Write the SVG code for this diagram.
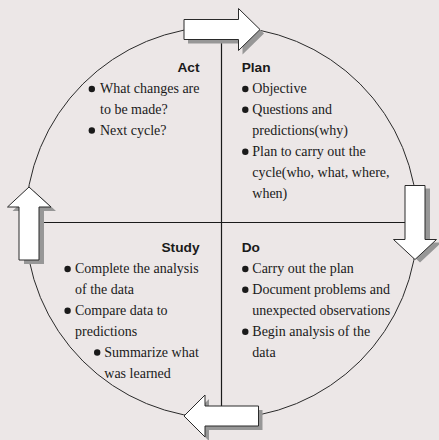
<svg xmlns="http://www.w3.org/2000/svg" width="439" height="440" viewBox="0 0 439 440">
<defs>
<style>
.bg{fill:#ece7e7}
.ring{fill:none;stroke:#2a2a2a;stroke-width:1}
.axis{stroke:#1a1a1a;stroke-width:1.2;fill:none}
.arrow{fill:#ffffff;stroke:#2a2a2a;stroke-width:1}
.shadow{fill:#979797}
.h{font-family:"Liberation Sans",Arial,sans-serif;font-weight:bold;font-size:13.7px;fill:#1a1a1a}
.t{font-family:"Liberation Serif","Times New Roman",serif;font-size:14px;fill:#1a1a1a}
.dot{fill:#1a1a1a}
</style>
</defs>
<rect class="bg" x="0" y="0" width="439" height="440"/>
<circle class="ring" cx="221.5" cy="222.5" r="196"/>
<g id="connectors">
<line class="axis" x1="221.5" y1="39" x2="221.5" y2="406"/>
<line class="axis" x1="39" y1="222.5" x2="405" y2="222.5"/>
</g>
<g id="arrow-top">
<polygon class="shadow" transform="translate(4,4)" points="184,19.5 238.5,19.5 238.5,8.5 260,29.5 238.5,50.5 238.5,39.5 184,39.5"/>
<polygon class="arrow" points="184,19.5 238.5,19.5 238.5,8.5 260,29.5 238.5,50.5 238.5,39.5 184,39.5"/>
</g>
<g id="arrow-right">
<polygon class="shadow" transform="translate(5,3)" points="405,185.5 425,185.5 425,239.5 436.5,239.5 415,259.5 393.5,239.5 405,239.5"/>
<polygon class="arrow" points="405,185.5 425,185.5 425,239.5 436.5,239.5 415,259.5 393.5,239.5 405,239.5"/>
</g>
<g id="arrow-bottom">
<polygon class="shadow" transform="translate(4,4)" points="258.5,406 258.5,426 205,426 205,437 184,416 205,395 205,406"/>
<polygon class="arrow" points="258.5,406 258.5,426 205,426 205,437 184,416 205,395 205,406"/>
</g>
<g id="arrow-left">
<polygon class="shadow" transform="translate(5,4)" points="19,260 19,207 7.5,207 29,187 51,207 39,207 39,260"/>
<polygon class="arrow" points="19,260 19,207 7.5,207 29,187 51,207 39,207 39,260"/>
</g>
<g id="act">
<text class="h" x="199.5" y="71.7" text-anchor="end">Act</text>
<circle class="dot" cx="91.8" cy="89" r="3.2"/>
<text class="t" x="100" y="93.3">What changes are</text>
<text class="t" x="100" y="114.3">to be made?</text>
<circle class="dot" cx="91.8" cy="130.5" r="3.2"/>
<text class="t" x="100" y="135">Next cycle?</text>
</g>
<g id="plan">
<text class="h" x="241.7" y="71.7">Plan</text>
<circle class="dot" cx="245.3" cy="89" r="3.2"/>
<text class="t" x="252.3" y="93.3">Objective</text>
<circle class="dot" cx="245.3" cy="109.8" r="3.2"/>
<text class="t" x="252.3" y="114">Questions and</text>
<text class="t" x="252.3" y="135">predictions(why)</text>
<circle class="dot" cx="245.3" cy="151.8" r="3.2"/>
<text class="t" x="252.3" y="156">Plan to carry out the</text>
<text class="t" x="252.3" y="176.8">cycle(who, what, where,</text>
<text class="t" x="252.3" y="197.7">when)</text>
</g>
<g id="study">
<text class="h" x="199.5" y="251.7" text-anchor="end">Study</text>
<circle class="dot" cx="67.6" cy="269" r="3.2"/>
<text class="t" x="75" y="273.3">Complete the analysis</text>
<text class="t" x="75" y="294.2">of the data</text>
<circle class="dot" cx="67.6" cy="310.8" r="3.2"/>
<text class="t" x="75" y="315">Compare data to</text>
<text class="t" x="75" y="336">predictions</text>
<circle class="dot" cx="97.2" cy="352.5" r="3.2"/>
<text class="t" x="104.3" y="356.7">Summarize what</text>
<text class="t" x="104.3" y="377.5">was learned</text>
</g>
<g id="do">
<text class="h" x="241.7" y="251.7">Do</text>
<circle class="dot" cx="245.3" cy="269" r="3.2"/>
<text class="t" x="252.3" y="273.3">Carry out the plan</text>
<circle class="dot" cx="245.3" cy="289.8" r="3.2"/>
<text class="t" x="252.3" y="294.2">Document problems and</text>
<text class="t" x="252.3" y="315">unexpected observations</text>
<circle class="dot" cx="245.3" cy="331.8" r="3.2"/>
<text class="t" x="252.3" y="336">Begin analysis of the</text>
<text class="t" x="252.3" y="357">data</text>
</g>
</svg>
